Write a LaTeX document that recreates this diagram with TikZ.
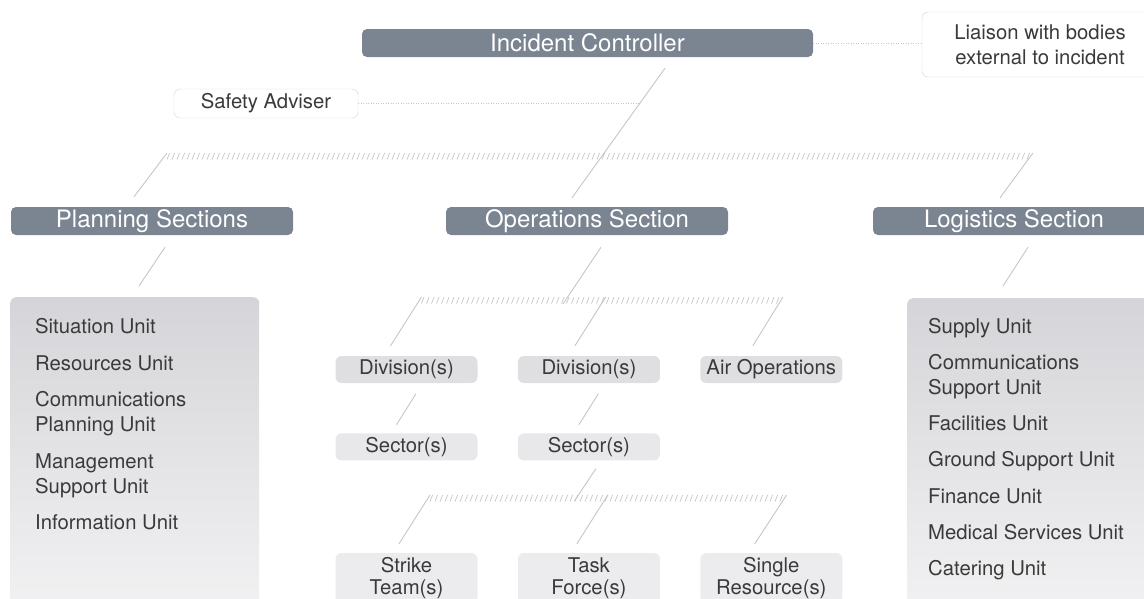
\documentclass[tikz,border=0pt]{standalone}
\usepackage{fontspec}
\setmainfont{TeX Gyre Heros}
\usetikzlibrary{positioning, calc}

\definecolor{slate}{HTML}{7B8591}
\definecolor{ink}{HTML}{3A3A3A}
\definecolor{boxEdge}{HTML}{D4D4D4}
\definecolor{lineGrey}{HTML}{C6C6C6}
\definecolor{hatchGrey}{HTML}{BEBEBE}
\definecolor{divFill}{HTML}{DFDFE2}
\definecolor{secFill}{HTML}{E8E8EA}
\definecolor{teamFill}{HTML}{ECECEE}
\definecolor{listTop}{HTML}{D5D5D9}
\definecolor{listBot}{HTML}{F3F3F4}

\newcommand{\headFont}{\fontsize{24}{28}\selectfont}
\newcommand{\unitFont}{\fontsize{20.3}{25}\selectfont}

\begin{document}
\begin{tikzpicture}[
    x=1pt, y=-1pt,
    head/.style = {
        fill=slate,
        text=white,
        rounded corners=5pt,
        minimum width=282pt,
        minimum height=28pt,
        inner sep=0pt,
        font=\headFont,
    },
    aside/.style = {
        draw=boxEdge,
        fill=white,
        rounded corners=6pt,
        inner sep=0pt,
        text=ink,
        align=center,
        font=\unitFont,
    },
    unit/.style = {
        rounded corners=6pt,
        minimum width=142pt,
        minimum height=27pt,
        inner sep=0pt,
        text=ink,
        align=center,
        font=\unitFont,
    },
    listBox/.style = {
        top color=listTop,
        bottom color=listBot,
        rounded corners=6pt,
        minimum width=249pt,
        minimum height=330pt,
        inner sep=0pt,
        anchor=north west,
    },
    listText/.style = {
        anchor=north west,
        align=left,
        inner sep=0pt,
        text=ink,
        font=\unitFont,
    },
    link/.style = {
        draw=lineGrey,
        line width=0.9pt,
    },
    dotLink/.style = {
        draw=lineGrey,
        line width=0.9pt,
        dash pattern=on 0.9pt off 1.6pt,
    },
    hatch/.style = {
        draw=hatchGrey,
        line width=0.6pt,
    },
]
\useasboundingbox (0,0) rectangle (1144,598);
\clip (0,0) rectangle (1144,598);

% command level
\node[head, minimum width=451pt] (controller) at (587.5,43) {Incident Controller};
\node[aside, minimum width=236pt, minimum height=65pt] (liaison) at (1040,44.5)
    {Liaison with bodies\\external to incident};
\node[aside, minimum width=184pt, minimum height=29pt] (adviser) at (266,103.5)
    {Safety Adviser};

\draw[dotLink] (controller.east) -- (controller.east -| liaison.west);

% sections
\node[head] (planning) at (152,221) {Planning Sections};
\node[head] (operations) at (587,221) {Operations Section};
\node[head] (logistics) at (1014,221) {Logistics Section};

\draw[link] ($(controller.south)+(77.5,11)$) -- ($(operations.north)+(-15,-9)$)
    coordinate[pos=0.273] (adviserJoin);
\draw[dotLink] (adviser.east) -- (adviser.east -| adviserJoin);

\coordinate (topBusL) at (167,153);
\coordinate (topBusR) at (1033,153);
\foreach \x in {167,172,...,1030}
    \draw[hatch] (\x,159.5) -- ++(2.6,-6.5);
\draw[link] (topBusL) -- ($(planning.north)+(-18,-10)$);
\draw[link] (topBusR) -- ($(logistics.north)+(-14,-9)$);

% unit lists
\node[listBox] (planList) at (10,297) {};
\node[listText] (planItems) at ($(planList.north west)+(25,21.5)$) {%
    Situation Unit\\[11.5pt]
    Resources Unit\\[11.5pt]
    Communications\\Planning Unit\\[11.5pt]
    Management\\Support Unit\\[11.5pt]
    Information Unit};
\draw[link] ($(planning.south)+(13,12)$) -- ($(planList.north west)+(129,-11)$);

\node[listBox] (logList) at (907,298) {};
\node[listText] (logItems) at ($(logList.north west)+(21,20)$) {%
    Supply Unit\\[11.2pt]
    Communications\\Support Unit\\[11.2pt]
    Facilities Unit\\[11.2pt]
    Ground Support Unit\\[11.2pt]
    Finance Unit\\[11.2pt]
    Medical Services Unit\\[11.2pt]
    Catering Unit};
\draw[link] ($(logistics.south)+(14,12)$) -- ($(logList.north west)+(96,-12)$);

% operations tree
\coordinate (midBusL) at (421.5,297);
\coordinate (midBusR) at (783,297);
\coordinate (opsJoin) at (563,304);
\foreach \x in {421.5,426.5,...,781}
    \draw[hatch] (\x,303.5) -- ++(2.6,-6.5);
\draw[link] ($(operations.south)+(14,12)$) -- (opsJoin);

\node[unit, fill=divFill] (div1) at (406.5,369.5) {Division(s)};
\node[unit, fill=divFill, right=40pt of div1] (div2) {Division(s)};
\node[unit, fill=divFill, right=40pt of div2] (air) {Air Operations};
\node[unit, fill=secFill, below=50pt of div1] (sec1) {Sector(s)};
\node[unit, fill=secFill, below=50pt of div2] (sec2) {Sector(s)};

\draw[link] (midBusL) -- ($(div1.north)+(-16,-10)$);
\draw[link] ($(div2.north)+(17,-59)$) -- ($(div2.north)+(-14,-10)$);
\draw[link] (midBusR) -- ($(air.north)+(-18.5,-10)$);
\draw[link] ($(div1.south)+(9.5,10.5)$) -- ($(sec1.north)+(-10,-8.5)$);
\draw[link] ($(div2.south)+(9.5,10.5)$) -- ($(sec2.north)+(-10,-8.5)$);

\coordinate (lowBusL) at (430,495);
\coordinate (lowBusR) at (786.5,495);
\coordinate (secJoin) at (574.5,501);
\foreach \x in {430,435,...,784}
    \draw[hatch] (\x,501.5) -- ++(2.6,-6.5);
\draw[link] ($(sec2.south)+(7,8)$) -- (secJoin);

\node[unit, fill=teamFill, minimum height=50pt] (strike) at (406.5,578)
    {Strike\\[-2.5pt]Team(s)};
\node[unit, fill=teamFill, minimum height=50pt, right=40pt of strike] (task)
    {Task\\[-2.5pt]Force(s)};
\node[unit, fill=teamFill, minimum height=50pt, right=40pt of task] (single)
    {Single\\[-2.5pt]Resource(s)};

\draw[link] (lowBusL) -- ($(strike.north)+(-7.5,-9)$);
\draw[link] ($(task.north)+(19,-58)$) -- ($(task.north)+(-12,-9)$);
\draw[link] (lowBusR) -- ($(single.north)+(-16.5,-9)$);

\end{tikzpicture}
\end{document}
